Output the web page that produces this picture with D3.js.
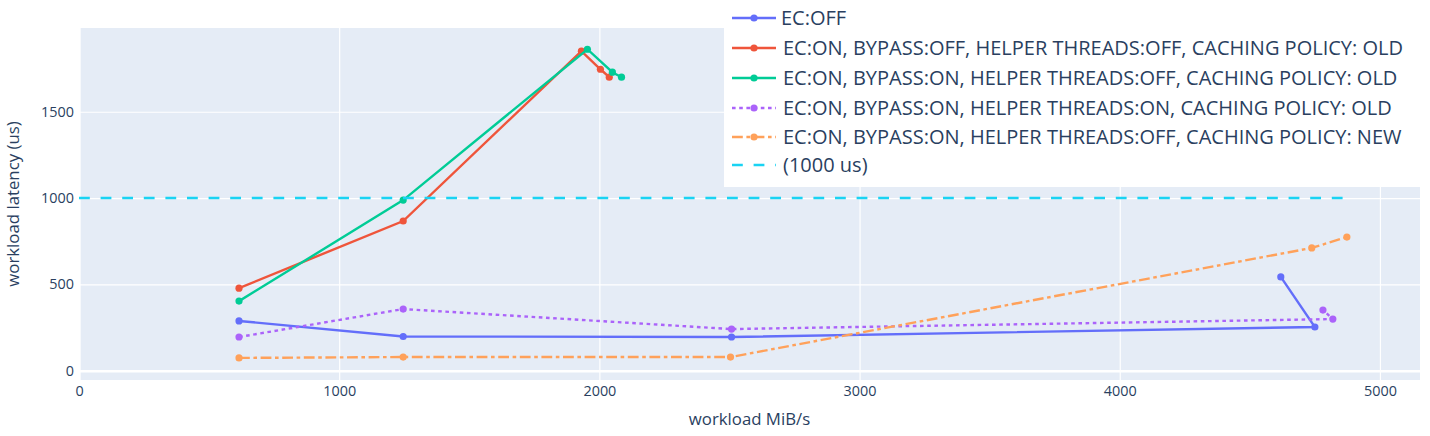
<!DOCTYPE html>
<html>
<head>
<meta charset="utf-8">
<script src="https://cdn.jsdelivr.net/npm/d3@7"></script>
<style>
  body { margin: 0; background: #fff; }
  text { font-family: "Open Sans", verdana, arial, sans-serif; fill: #2a3f5f; }
</style>
</head>
<body>
<div class="chart"></div>
<script>
// Values
var seriesNames = [
  "EC:OFF",
  "EC:ON, BYPASS:OFF, HELPER THREADS:OFF, CACHING POLICY: OLD",
  "EC:ON, BYPASS:ON, HELPER THREADS:OFF, CACHING POLICY: OLD",
  "EC:ON, BYPASS:ON, HELPER THREADS:ON, CACHING POLICY: OLD",
  "EC:ON, BYPASS:ON, HELPER THREADS:OFF, CACHING POLICY: NEW"
];
var ecOffX = [615, 1246, 2508, 4750, 4619];
var ecOffY = [288, 198, 195, 253, 543];
var bypassOffX = [615, 1246, 1931, 2004, 2038];
var bypassOffY = [478, 867, 1851, 1746, 1700];
var bypassOnX = [615, 1246, 1954, 2050, 2085];
var bypassOnY = [403, 988, 1862, 1729, 1700];
var helperOnX = [615, 1246, 2508, 4819, 4781];
var helperOnY = [195, 357, 241, 299, 351];
var policyNewX = [615, 1246, 2504, 4738, 4873];
var policyNewY = [74, 79, 79, 711, 774];
var limitName = "(1000 us)";
var limitX = [0, 4873];
var limitY = [1000, 1000];
var xTicks = [0, 1000, 2000, 3000, 4000, 5000];
var yTicks = [0, 500, 1000, 1500];

var colors = ["#636efa", "#EF553B", "#00cc96", "#ab63fa", "#FFA15A", "#19d3f3"];
var dashes = [null, null, null, "3.6,3.6", "10.8,3.6,3.6,3.6", "10.8,10.8"];

var svgWidth = 1430;
var svgHeight = 436;
var plot = { left: 79, right: 1420, top: 28, bottom: 380 };

var svg = d3.select(".chart")
  .append("svg")
  .attr("width", svgWidth)
  .attr("height", svgHeight);

var xScale = d3.scaleLinear().domain([0, 5154]).range([plot.left, plot.right]);
var yScale = d3.scaleLinear().domain([-54, 1985]).range([plot.bottom, plot.top]);

// plot background
svg.append("rect")
  .attr("x", plot.left)
  .attr("y", plot.top)
  .attr("width", plot.right - plot.left)
  .attr("height", plot.bottom - plot.top)
  .attr("fill", "#E5ECF6");

// grid + tick labels
var xAxis = svg.append("g")
  .attr("transform", `translate(0, ${plot.bottom})`)
  .call(d3.axisBottom(xScale).tickValues(xTicks).tickFormat(d3.format("d"))
    .tickSize(-(plot.bottom - plot.top)).tickPadding(6));
var yAxis = svg.append("g")
  .attr("transform", `translate(${plot.left}, 0)`)
  .call(d3.axisLeft(yScale).tickValues(yTicks).tickFormat(d3.format("d"))
    .tickSize(-(plot.right - plot.left)).tickPadding(5));

[xAxis, yAxis].forEach(function(ax) {
  ax.select(".domain").remove();
  ax.selectAll("line").attr("stroke", "#fff").attr("stroke-width", 1.2);
  ax.selectAll("text").attr("font-size", "14.4px").attr("fill", "#2a3f5f");
  // zero line is a bit wider
  ax.selectAll(".tick").filter(d => d === 0).select("line").attr("stroke-width", 2.4);
});

// axis titles
svg.append("text")
  .attr("x", (plot.left + plot.right) / 2)
  .attr("y", 425)
  .attr("text-anchor", "middle")
  .attr("font-size", "16.8px")
  .text("workload MiB/s");
svg.append("text")
  .attr("transform", `translate(19, ${(plot.top + plot.bottom) / 2}) rotate(-90)`)
  .attr("text-anchor", "middle")
  .attr("font-size", "16.8px")
  .text("workload latency (us)");

// series
var series = [
  { name: seriesNames[0], x: ecOffX, y: ecOffY, markers: true },
  { name: seriesNames[1], x: bypassOffX, y: bypassOffY, markers: true },
  { name: seriesNames[2], x: bypassOnX, y: bypassOnY, markers: true },
  { name: seriesNames[3], x: helperOnX, y: helperOnY, markers: true },
  { name: seriesNames[4], x: policyNewX, y: policyNewY, markers: true },
  { name: limitName, x: limitX, y: limitY, markers: false }
];

var line = d3.line()
  .x(d => xScale(d[0]))
  .y(d => yScale(d[1]));

var seriesGroup = svg.append("g");
series.forEach(function(s, i) {
  var pts = s.x.map((v, j) => [v, s.y[j]]);
  seriesGroup.append("path")
    .datum(pts)
    .attr("d", line)
    .attr("fill", "none")
    .attr("stroke", colors[i])
    .attr("stroke-width", 2.4)
    .attr("stroke-dasharray", dashes[i]);
  if (s.markers) {
    seriesGroup.selectAll(null)
      .data(pts)
      .enter()
      .append("circle")
      .attr("cx", d => xScale(d[0]))
      .attr("cy", d => yScale(d[1]))
      .attr("r", 3.6)
      .attr("fill", colors[i]);
  }
});

// legend (drawn over the plot, top right)
var legend = svg.append("g");
legend.append("rect")
  .attr("x", 724)
  .attr("y", 0)
  .attr("width", svgWidth - 724)
  .attr("height", 187)
  .attr("fill", "#fff");

var rowY = [18, 48, 78, 108, 137, 165];
series.forEach(function(s, i) {
  var row = legend.append("g").attr("transform", `translate(732, ${rowY[i]})`);
  row.append("line")
    .attr("x1", 0).attr("x2", 44)
    .attr("stroke", colors[i])
    .attr("stroke-width", 2.4)
    .attr("stroke-dasharray", dashes[i]);
  if (s.markers) {
    row.append("circle").attr("cx", 22).attr("r", 3.6).attr("fill", colors[i]);
  }
  row.append("text")
    .attr("x", i === 0 ? 49 : 51)
    .attr("dy", "0.35em")
    .attr("font-size", "20px")
    .text(s.name);
});
</script>
</body>
</html>
